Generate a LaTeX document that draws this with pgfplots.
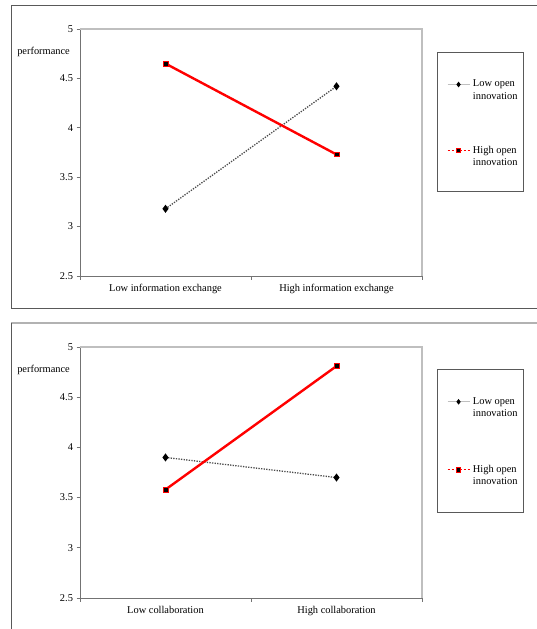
\documentclass[border=0pt]{standalone}
\usepackage{pgfplots}
\pgfplotsset{compat=1.18}
\usepackage{fontspec}
\setmainfont{Liberation Serif}

\pgfplotsset{
  myaxis/.style={
    scale only axis, width=342bp,
    xmin=0, xmax=2, ymin=2.5, ymax=5,
    axis x line*=bottom, axis y line*=left,
    axis line style={black!55, line width=0.9bp, -},
    xtick={0,1,2}, xticklabels={},
    ytick={2.5,3,3.5,4,4.5,5},
    yticklabels={2.5,3,3.5,4,4.5,5},
    tick align=outside, major tick length=3.5bp,
    tick style={black!55, line width=0.9bp},
    tick label style={font=\fontsize{10.4bp}{12bp}\selectfont},
    extra x tick style={major tick length=0pt, tick label style={yshift=-5bp}},
    ylabel={performance},
    ylabel style={rotate=-90, anchor=east, inner sep=0pt, xshift=-10bp,
      font=\fontsize{10.4bp}{12bp}\selectfont},
    clip=false,
    legend cell align=left,
    legend image code/.code={\draw[mark repeat=2,mark phase=2,##1] plot coordinates {(0bp,6bp) (11bp,6bp) (22bp,6bp)};},
    legend style={draw=none, fill=none, inner sep=0pt, row sep=45bp, column sep=3bp,
      nodes={align=left, inner sep=0pt, font=\fontsize{10.4bp}{12.5bp}\selectfont}},
    lowopen/.style={black!70, line width=1.3bp, dash pattern=on 1.3bp off 1.3bp,
      mark=diamond*, mark size=3bp, mark options={solid, fill=black, draw=black}},
    highopen/.style={red, line width=2.4bp, mark=square*, mark size=2.4bp,
      mark options={solid, fill=black, draw=red, line width=0.8bp}},
  }
}

\begin{document}
\begin{tikzpicture}[x=1bp,y=1bp]
\useasboundingbox (0,0) rectangle (537,-629);
% panel frames
\draw[black!65, line width=1bp] (540,-6) -- (11,-6) -- (11,-308) -- (540,-308);
\draw[black!30, line width=1.5bp] (11,-323) -- (540,-323);
\draw[black!65, line width=1bp] (11,-323) -- (11,-640);
% legend boxes
\draw[black!65, line width=0.9bp] (437,-52) rectangle (523,-191);
\draw[black!65, line width=0.9bp] (437,-369) rectangle (523,-512);

% top chart
\begin{axis}[myaxis, at={(80bp,-276bp)}, anchor=south west, height=247bp,
  extra x ticks={0.5,1.5},
  extra x tick labels={Low information exchange, High information exchange},
  ylabel style={at={(axis description cs:0,0.907)}},
  legend style={at={(axis description cs:1.073,0.794)}, anchor=north west}]
\draw[black!25, line width=1.6bp] (rel axis cs:0,1) -- (rel axis cs:1,1) -- (rel axis cs:1,0);
\addplot[lowopen, forget plot] coordinates {(0.5,3.18) (1.5,4.42)};
\addplot[highopen, forget plot] coordinates {(0.5,4.65) (1.5,3.73)};
\addlegendimage{black!25, line width=0.8bp, mark=diamond*, mark size=2.2bp, mark options={fill=black, draw=black}}
\addlegendentry{Low open\\innovation}
\addlegendimage{red, line width=0.8bp, dash pattern=on 2.5bp off 1.5bp, mark=square*, mark size=2.2bp, mark options={solid, fill=black, draw=red}}
\addlegendentry{High open\\innovation}
\end{axis}

% bottom chart
\begin{axis}[myaxis, at={(80bp,-598bp)}, anchor=south west, height=251bp,
  extra x ticks={0.5,1.5},
  extra x tick labels={Low collaboration, High collaboration},
  ylabel style={at={(axis description cs:0,0.908)}},
  legend style={at={(axis description cs:1.073,0.80)}, anchor=north west, row sep=47bp}]
\draw[black!25, line width=1.6bp] (rel axis cs:0,1) -- (rel axis cs:1,1) -- (rel axis cs:1,0);
\addplot[lowopen, forget plot] coordinates {(0.5,3.90) (1.5,3.70)};
\addplot[highopen, forget plot] coordinates {(0.5,3.58) (1.5,4.81)};
\addlegendimage{black!25, line width=0.8bp, mark=diamond*, mark size=2.2bp, mark options={fill=black, draw=black}}
\addlegendentry{Low open\\innovation}
\addlegendimage{red, line width=0.8bp, dash pattern=on 2.5bp off 1.5bp, mark=square*, mark size=2.2bp, mark options={solid, fill=black, draw=red}}
\addlegendentry{High open\\innovation}
\end{axis}
\end{tikzpicture}
\end{document}
